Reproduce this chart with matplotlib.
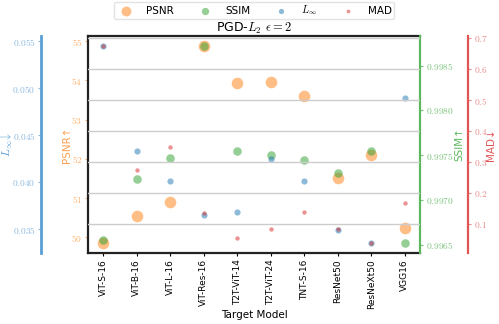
import numpy as np
import matplotlib
matplotlib.use("Agg")
import matplotlib.pyplot as plt
from matplotlib.ticker import FuncFormatter, MultipleLocator

plt.rcParams['mathtext.fontset'] = 'cm'
plt.rcParams['font.family'] = 'DejaVu Sans'

models = ["ViT-S-16", "ViT-B-16", "ViT-L-16", "ViT-Res-16", "T2T-ViT-14",
          "T2T-ViT-24", "TNT-S-16", "ResNet50", "ResNeXt50", "VGG16"]
psnr = [49.85, 50.55, 50.90, 54.88, 53.93, 53.96, 53.60, 51.51, 52.11, 50.24]
ssim = [0.99656, 0.99723, 0.99747, 0.99872, 0.99755, 0.99750, 0.99745, 0.99730, 0.99755, 0.99652]
linf = [0.0545, 0.0433, 0.0401, 0.0365, 0.0368, 0.0425, 0.0401, 0.0349, 0.0335, 0.0490]
mad = [0.675, 0.276, 0.349, 0.135, 0.057, 0.084, 0.138, 0.083, 0.039, 0.167]

x = np.arange(len(models))

def fmt(nd):
    return FuncFormatter(lambda v, pos: "$%.*f$" % (nd, v))

fig = plt.figure(figsize=(4.99, 3.24), dpi=100)
ax = fig.add_axes([88/499, 1-253/324, 332/499, 217/324])
ax2 = ax.twinx()
ax3 = ax.twinx()
ax4 = ax.twinx()

p1 = ax.scatter(x, psnr, s=70, color='#ff7f0e', alpha=0.5, lw=0, label='PSNR')
p2 = ax2.scatter(x, ssim, s=38, color='#2ca02c', alpha=0.5, lw=0, label='SSIM')
p3 = ax3.scatter(x, linf, s=20, color='#1f77b4', alpha=0.5, lw=0, label=r'$L_\infty$')
p4 = ax4.scatter(x, mad, s=10, color='#d62728', alpha=0.5, lw=0, label='MAD')

# left offset axis for L_inf
ax3.yaxis.set_label_position('left')
ax3.yaxis.set_ticks_position('left')
ax3.spines['left'].set_position(('axes', -47/332))
ax4.spines['right'].set_position(('axes', 1 + 48/332))

for a in (ax2, ax3, ax4):
    for s in a.spines.values():
        s.set_visible(False)
ax3.spines['left'].set_visible(True)
ax2.spines['right'].set_visible(True)
ax4.spines['right'].set_visible(True)

ax.spines['right'].set_visible(False)
for s in ('left', 'top', 'bottom'):
    ax.spines[s].set_linewidth(1.6)
    ax.spines[s].set_color('#222222')

ax3.spines['left'].set_color('#5a9fd4')
ax3.spines['left'].set_linewidth(2)
ax2.spines['right'].set_color('#5cb85c')
ax2.spines['right'].set_linewidth(1.6)
ax4.spines['right'].set_color('#e05555')
ax4.spines['right'].set_linewidth(1.6)

ax.yaxis.set_major_locator(MultipleLocator(1))
ax2.yaxis.set_major_locator(MultipleLocator(0.0005))
ax3.yaxis.set_major_locator(MultipleLocator(0.005))
ax4.yaxis.set_major_locator(MultipleLocator(0.1))

cfg = [(ax, '#ffb370', 0), (ax2, '#7cc47c', 4), (ax3, '#8dbbe0', 3), (ax4, '#ea8a8a', 1)]
for a, tc, nd in cfg:
    a.yaxis.set_major_formatter(fmt(nd))
    a.tick_params(axis='y', colors=tc, labelsize=6.8, length=2.5, width=0.8, pad=1.5)

ax.set_ylabel('PSNR↑', color='#ffa050', fontsize=7.5)
ax2.set_ylabel('SSIM↑', color='#5cb85c', fontsize=7.5)
ax4.set_ylabel('MAD↓', color='#e05555', fontsize=7.5)
ax3.set_ylabel(r'$L_\infty\!\downarrow$', color='#5a9fd4', fontsize=8.5)
ax.yaxis.set_label_coords(-16/332, 0.5)
ax3.yaxis.set_label_coords(-73/332, 0.5)
ax2.yaxis.set_label_coords(1 + 34/332, 0.5)
ax4.yaxis.set_label_coords(1 + 66/332, 0.5)

ax4.grid(axis='y', color='#cccccc', lw=1)
ax.set_xticks(x)
ax.set_xticklabels(models, rotation=90, fontsize=6.5)
ax.tick_params(axis='x', length=2.5, width=0.8, pad=2)
ax.set_xlabel('Target Model', fontsize=7.5, labelpad=1)
ax.set_title(r'PGD-$L_2$ $\epsilon=2$', fontsize=9, pad=2)

fig.legend([p1, p2, p3, p4], ['PSNR', 'SSIM', r'$L_\infty$', 'MAD'],
           loc='upper center', bbox_to_anchor=(254/499, 1 - 1/324), ncol=4,
           fontsize=7.5, frameon=True, handlelength=2, handletextpad=0.9,
           columnspacing=2.0, borderpad=0.15, borderaxespad=0.1,
           markerscale=0.85, edgecolor='#dddddd', fancybox=True)

fig.savefig("out.png", dpi=100)
plt.close(fig)
